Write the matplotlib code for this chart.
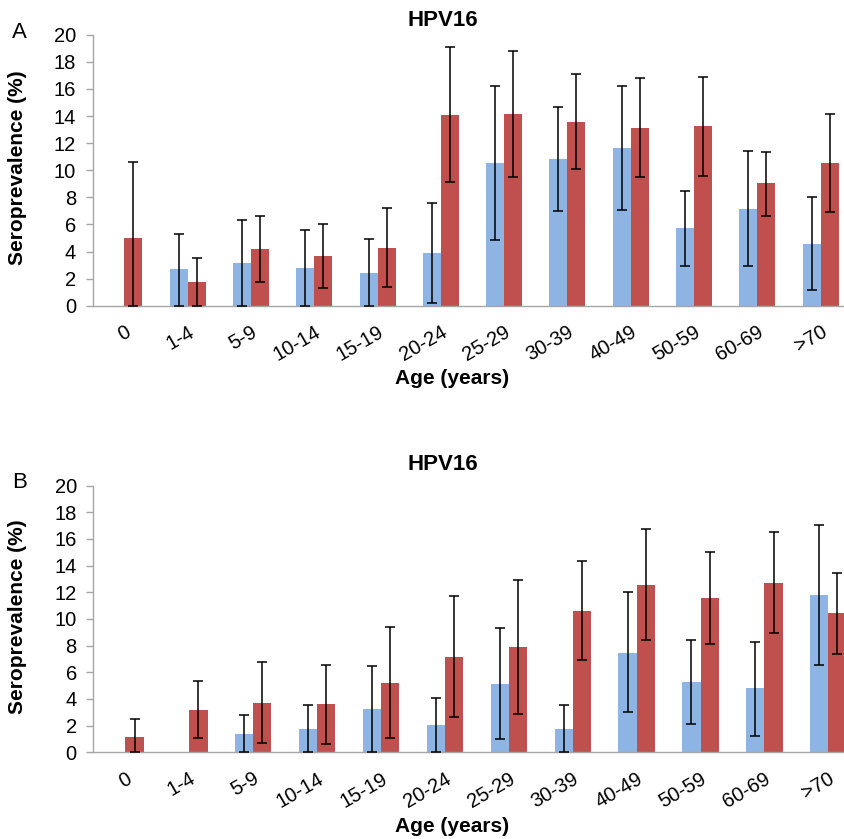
"""HPV16 seroprevalence by age group, two panels (A, B), Excel-style bars."""

import matplotlib.pyplot as plt
import numpy as np

plt.rcParams["font.family"] = ["Liberation Sans", "DejaVu Sans"]

AGE_GROUPS = ["0", "1-4", "5-9", "10-14", "15-19", "20-24",
              "25-29", "30-39", "40-49", "50-59", "60-69", ">70"]

NA = np.nan

# panel A
A_BLUE = [NA, 2.68, 3.13, 2.80, 2.44, 3.87, 10.50, 10.83, 11.66, 5.71, 7.16, 4.55]
A_BLUE_LO = [NA, 0.0, 0.0, 0.0, 0.0, 0.20, 4.85, 7.01, 7.06, 2.95, 2.95, 1.14]
A_BLUE_HI = [NA, 5.30, 6.32, 5.59, 4.95, 7.55, 16.20, 14.69, 16.24, 8.47, 11.44, 8.00]
A_RED = [4.97, 1.72, 4.20, 3.67, 4.28, 14.07, 14.15, 13.58, 13.14, 13.24, 9.03, 10.50]
A_RED_LO = [0.0, 0.0, 1.77, 1.31, 1.36, 9.10, 9.52, 10.07, 9.48, 9.60, 6.64, 6.92]
A_RED_HI = [10.60, 3.50, 6.64, 6.03, 7.23, 19.07, 18.80, 17.12, 16.78, 16.88, 11.37, 14.15]

# panel B
B_BLUE = [NA, NA, 1.35, 1.77, 3.25, 2.05, 5.15, 1.77, 7.47, 5.25, 4.80, 11.82]
B_BLUE_LO = [NA, NA, 0.0, 0.0, 0.0, 0.0, 0.97, 0.0, 3.00, 2.10, 1.25, 6.53]
B_BLUE_HI = [NA, NA, 2.77, 3.52, 6.47, 4.07, 9.32, 3.55, 12.00, 8.42, 8.30, 17.08]
B_RED = [1.15, 3.17, 3.72, 3.62, 5.22, 7.17, 7.90, 10.62, 12.57, 11.55, 12.70, 10.45]
B_RED_LO = [0.0, 1.05, 0.67, 0.65, 1.10, 2.67, 2.90, 6.92, 8.40, 8.10, 8.93, 7.37]
B_RED_HI = [2.50, 5.35, 6.80, 6.57, 9.38, 11.75, 12.93, 14.33, 16.75, 15.03, 16.50, 13.48]

BLUE = "#8DB4E2"
RED = "#C0504D"
AXIS_GREY = "#A6A6A6"

W, H = 845, 839
DPI = 100
BAR_W = 0.285
TICK_FS = 14.5


def px(x, y):
    """Pixel (from top-left) -> figure fraction."""
    return x / W, 1 - y / H


def draw_series(ax, offset, vals, lo, hi, color):
    xs = np.arange(len(AGE_GROUPS)) + offset
    vals = np.asarray(vals, float)
    lo = np.asarray(lo, float)
    hi = np.asarray(hi, float)
    ax.bar(xs, np.nan_to_num(vals), width=BAR_W, color=color,
           linewidth=0, zorder=2)
    ok = ~np.isnan(vals)
    ax.errorbar(xs[ok], vals[ok], yerr=[vals[ok] - lo[ok], hi[ok] - vals[ok]],
                fmt="none", ecolor="black", elinewidth=1.1, capsize=3.5,
                capthick=1.1, zorder=3)


def panel(fig, rect, blue, blue_lo, blue_hi, red, red_lo, red_hi):
    ax = fig.add_axes(rect)
    draw_series(ax, -BAR_W / 2, blue, blue_lo, blue_hi, BLUE)
    draw_series(ax, BAR_W / 2, red, red_lo, red_hi, RED)
    ax.set_xlim(-0.5, len(AGE_GROUPS) - 0.5)
    ax.set_ylim(0, 20)
    ax.set_yticks(np.arange(0, 21, 2))
    ax.set_xticks(np.arange(len(AGE_GROUPS)))
    ax.set_xticklabels(AGE_GROUPS, rotation=30, ha="right", va="top",
                       rotation_mode="anchor")
    for s in ("top", "right"):
        ax.spines[s].set_visible(False)
    for s in ("left", "bottom"):
        ax.spines[s].set_color(AXIS_GREY)
        ax.spines[s].set_linewidth(1.0)
    ax.tick_params(axis="y", length=5, width=1.0, color=AXIS_GREY,
                   labelsize=TICK_FS, pad=7)
    ax.tick_params(axis="x", length=0, labelsize=TICK_FS, pad=12)
    return ax


fig = plt.figure(figsize=(W / DPI, H / DPI), dpi=DPI)

# panel A
panel(fig, [92.7 / W, 1 - 305.7 / H, 12 * 63.3 / W, 271 / H],
      A_BLUE, A_BLUE_LO, A_BLUE_HI, A_RED, A_RED_LO, A_RED_HI)
# panel B
panel(fig, [93.5 / W, 1 - 752.3 / H, 12 * 63.9 / W, 266.7 / H],
      B_BLUE, B_BLUE_LO, B_BLUE_HI, B_RED, B_RED_LO, B_RED_HI)

for letter, (lx, ly), ty, agey, ylab_y in (
    ("A", (19, 33), 20, 379, 168),
    ("B", (20, 483), 465, 826, 617),
):
    fig.text(*px(lx, ly), letter, fontsize=16, ha="center", va="center")
    fig.text(*px(443, ty), "HPV16", fontsize=16, fontweight="bold",
             ha="center", va="center")
    fig.text(*px(452, agey), "Age (years)", fontsize=15, fontweight="bold",
             ha="center", va="center")
    fig.text(*px(18, ylab_y), "Seroprevalence (%)", fontsize=15,
             fontweight="bold", rotation=90, ha="center", va="center")

fig.savefig("out.png", dpi=DPI)
